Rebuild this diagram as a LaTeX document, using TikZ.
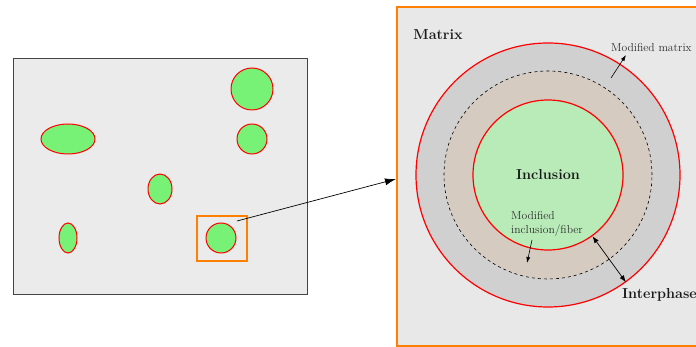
\documentclass[tikz,border=0pt]{standalone}
\usetikzlibrary{shapes.geometric,arrows.meta}
\definecolor{bgleft}{HTML}{EBEBEB}
\definecolor{bgright}{HTML}{E8E8E8}
\definecolor{ringgray}{HTML}{D0D0D0}
\definecolor{ringtan}{HTML}{D6CBC1}
\definecolor{incgreen}{HTML}{B9EBB9}
\definecolor{partgreen}{HTML}{77F277}
\definecolor{borange}{HTML}{FF8000}
\definecolor{edgegray}{HTML}{444444}
\tikzset{
  part/.style={ellipse, draw=red, fill=partgreen, line width=1pt, inner sep=0pt},
  ring/.style={circle, inner sep=0pt},
  boldlbl/.style={font=\fontsize{14.4}{16}\selectfont\bfseries, text=black!90, inner sep=0pt},
  smalllbl/.style={font=\fontsize{11.6}{14}\selectfont, text=black!82, inner sep=0pt},
  ptr/.style={-{Latex[length=6pt,width=4pt]}, line width=0.6pt},
}
\begin{document}
\begin{tikzpicture}[x=1pt,y=-1pt]
\useasboundingbox (0,0) rectangle (696,347);
\clip (0,0) rectangle (696,347);
% left sample
\draw[edgegray, fill=bgleft, line width=0.8pt] (13,58) rectangle (307,294);
\node[part, minimum width=42, minimum height=42] (p1) at (252,89) {};
\node[part, minimum width=30, minimum height=30] (p2) at (252,139) {};
\node[part, minimum width=54, minimum height=30] (p3) at (68,139) {};
\node[part, minimum width=24, minimum height=30] (p4) at (160,189) {};
\node[part, minimum width=18, minimum height=30] (p5) at (68,238) {};
\node[part, minimum width=30, minimum height=30] (p6) at (221,238) {};
\draw[borange, line width=2pt] (197,216) rectangle (247,261);
% right zoomed panel
\draw[borange, fill=bgright, line width=1.6pt] (397,7) rectangle (720,346);
\node[ring, fill=ringgray, draw=red, line width=1.2pt, minimum size=264] (outer) at (548,175) {};
\node[ring, fill=ringtan, draw=black, dash pattern=on 3pt off 3pt, line width=0.6pt, minimum size=208] (dashc) at (548,175) {};
\node[ring, fill=incgreen, draw=red, line width=1.2pt, minimum size=150] (inc) at (548,175) {};
% connector
\coordinate (zin) at (237,221);
\coordinate (zout) at (396,179);
\draw[-{Latex[length=11pt,width=7pt]}, line width=0.7pt] (zin) -- (zout);
% labels
\node[boldlbl] (lmat) at (438,35) {Matrix};
\node[boldlbl] (linc) at (548,175) {Inclusion};
\node[boldlbl, anchor=west] (lint) at (622,295) {Interphase};
\node[smalllbl, anchor=west] (lmm) at (611,47) {Modified matrix};
\node[smalllbl, anchor=west, align=left] (lmi) at (511,224) {Modified\\inclusion/fiber};
% arrows
\coordinate (mm1) at (611,78);
\coordinate (mm2) at (626,55);
\draw[ptr] (mm1) -- (mm2);
\coordinate (mi1) at (532,240);
\coordinate (mi2) at (527,263);
\draw[ptr] (mi1) -- (mi2);
\draw[{Latex[length=7pt,width=5pt]}-{Latex[length=7pt,width=5pt]}, line width=0.7pt] (inc.-54) -- (outer.-54);
\end{tikzpicture}
\end{document}
